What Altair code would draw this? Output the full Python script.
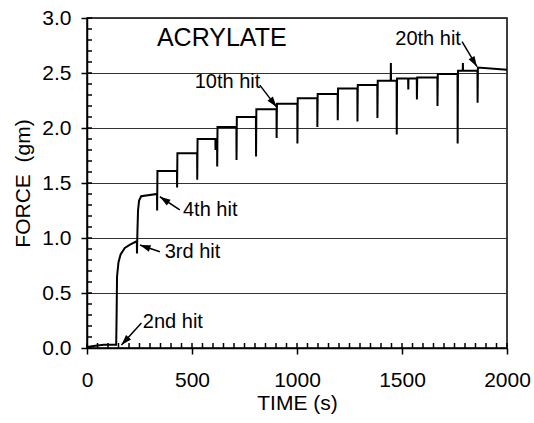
import math
import altair as alt
import pandas as pd

FONT = "Liberation Sans"

# ---- data ----
# quiet baseline before the 2nd hit
pre_t = [0, 40, 80, 120, 139]
pre_y = [0.01, 0.02, 0.03, 0.03, 0.03]
# rise after the 2nd hit (t = 140 s)
rise2_t = [141, 143, 150, 160, 180, 205, 236]
rise2_y = [0.30, 0.65, 0.78, 0.85, 0.91, 0.94, 0.97]
# rise after the 3rd hit
rise3_t = [240, 243, 248, 258]
rise3_y = [1.05, 1.25, 1.34, 1.38]

# hits 3 .. 20: time, bottom of the dip, plateau level afterwards
hit_t = [238, 334, 429, 525, 620, 712, 805, 903, 1002, 1097,
         1194, 1288, 1383, 1475, 1571, 1669, 1765, 1860]
dip_y = [0.86, 1.25, 1.46, 1.53, 1.65, 1.71, 1.74, 1.91, 1.86, 2.01,
         2.07, 2.06, 2.09, 1.94, 2.26, 2.20, 1.86, 2.23]
level_y = [1.40, 1.61, 1.77, 1.90, 2.01, 2.10, 2.17, 2.22, 2.27, 2.31,
           2.36, 2.39, 2.43, 2.45, 2.46, 2.49, 2.52, 2.55]
end_t = 2000
end_y = 2.53

# extra single spikes inside plateaus
spike_t = [612, 1447, 1530, 1790]
spike_y = [1.80, 2.59, 2.35, 2.59]

# annotations
label_text = ["2nd hit", "3rd hit", "4th hit", "10th hit", "20th hit"]
label_t = [266, 370, 457, 513, 1468]
label_y = [0.236, 0.877, 1.255, 2.414, 2.81]
arrow_tail_t = [259, 347, 442, 823, 1786]
arrow_tail_y = [0.227, 0.875, 1.255, 2.39, 2.785]
arrow_head_t = [164, 252, 347, 903, 1857]
arrow_head_y = [0.027, 0.936, 1.375, 2.19, 2.557]
title_text = "ACRYLATE"
title_t = 333
title_y = 2.82

x_major = [0, 500, 1000, 1500, 2000]
x_minor = list(range(0, 2001, 50))
y_major = [0.0, 0.5, 1.0, 1.5, 2.0, 2.5, 3.0]
y_minor = [round(v * 0.1, 1) for v in range(0, 31)]

# ---- build the trace ----
pts = list(zip(pre_t, pre_y)) + list(zip(rise2_t, rise2_y))
prev = rise2_y[-1]
for i, (t, d, lv) in enumerate(zip(hit_t, dip_y, level_y)):
    pts.append((t - 0.6, prev))
    pts.append((t, d))
    if i == 0:
        pts += list(zip(rise3_t, rise3_y))
    else:
        pts.append((t + 1.5, lv))
    prev = lv
pts.append((end_t, end_y))
base_pts = list(pts)


def level_at(tq):
    lv = base_pts[0][1]
    for t, y in base_pts:
        if t <= tq:
            lv = y
    return lv


for st, sy_ in zip(spike_t, spike_y):
    lv = level_at(st)
    pts += [(st - 0.8, lv), (st, sy_), (st + 0.8, lv)]
pts.sort(key=lambda p: p[0])

trace = pd.DataFrame({"t": [p[0] for p in pts], "f": [p[1] for p in pts],
                      "o": list(range(len(pts)))})

W, H = 420, 330
sx = W / 2000
sy = H / 3.0
angles = []
for a, b, c, d in zip(arrow_tail_t, arrow_tail_y, arrow_head_t, arrow_head_y):
    dx = (c - a) * sx
    dys = -(d - b) * sy
    angles.append(math.degrees(math.atan2(dx, -dys)) % 360)

arrows = pd.DataFrame({"t": arrow_tail_t, "f": arrow_tail_y,
                       "t2": arrow_head_t, "f2": arrow_head_y, "ang": angles})
labels = pd.DataFrame({"t": label_t, "f": label_y, "txt": label_text})
title_df = pd.DataFrame({"t": [title_t], "f": [title_y], "txt": [title_text]})
xminor_df = pd.DataFrame({"t": x_minor})
yminor_df = pd.DataFrame({"f": y_minor})

xs = alt.Scale(domain=[0, 2000], nice=False)
ys = alt.Scale(domain=[0, 3], nice=False)

main = alt.Chart(trace).mark_line(color="black", strokeWidth=2).encode(
    x=alt.X("t:Q", scale=xs, axis=alt.Axis(
        values=x_major, format="d", title="TIME (s)", orient="bottom", grid=False,
        tickSize=6, tickColor="black", tickWidth=1.5, labelFlush=False,
        domainColor="black", domainWidth=1.5,
        labelFont=FONT, labelFontSize=21, labelColor="black", labelPadding=15,
        titleFont=FONT, titleFontSize=21, titleFontWeight="normal",
        titleColor="black", titlePadding=2)),
    y=alt.Y("f:Q", scale=ys, axis=alt.Axis(
        values=y_major, format=".1f", title="FORCE\u00a0 (gm)", orient="left",
        grid=True, gridColor="#333333", gridWidth=1, labelFlush=False,
        tickSize=6, tickColor="black", tickWidth=1.5,
        domainColor="black", domainWidth=1.5,
        labelFont=FONT, labelFontSize=21, labelColor="black", labelPadding=10,
        titleFont=FONT, titleFontSize=21, titleFontWeight="normal",
        titleColor="black", titlePadding=8)),
    order="o:Q",
)

xin = alt.Chart(xminor_df).mark_rule(color="black", strokeWidth=1.5).encode(
    x=alt.X("t:Q", axis=None), y=alt.value(H), y2=alt.value(H - 5))

yin = alt.Chart(yminor_df).mark_rule(color="black", strokeWidth=1.5).encode(
    y=alt.Y("f:Q", axis=None), x=alt.value(0), x2=alt.value(5))

shafts = alt.Chart(arrows).mark_rule(color="black", strokeWidth=1.5).encode(
    x=alt.X("t:Q", axis=None), y=alt.Y("f:Q", axis=None),
    x2="t2:Q", y2="f2:Q")

heads = alt.Chart(arrows).mark_point(
    filled=True, color="black", opacity=1, size=450,
    shape="M0,0L-0.32,1L0.32,1Z").encode(
    x=alt.X("t2:Q", axis=None), y=alt.Y("f2:Q", axis=None),
    angle=alt.Angle("ang:Q", scale=None))

texts = alt.Chart(labels).mark_text(
    font=FONT, fontSize=20, align="left", baseline="middle", color="black"
).encode(x=alt.X("t:Q", axis=None), y=alt.Y("f:Q", axis=None), text="txt:N")

title = alt.Chart(title_df).mark_text(
    font=FONT, fontSize=25, align="left", baseline="middle", color="black"
).encode(x=alt.X("t:Q", axis=None), y=alt.Y("f:Q", axis=None), text="txt:N")

chart = alt.layer(main, xin, yin, shafts, heads, texts, title).resolve_axis(
    x="independent", y="independent"
).properties(
    width=W, height=H,
    autosize=alt.AutoSizeParams(type="none"),
    padding={"left": 87, "top": 18, "right": 27, "bottom": 75},
    background="white",
).configure_view(stroke="black", strokeWidth=1.5)

chart.save("out.html", embed_options={"renderer": "svg", "actions": False})
